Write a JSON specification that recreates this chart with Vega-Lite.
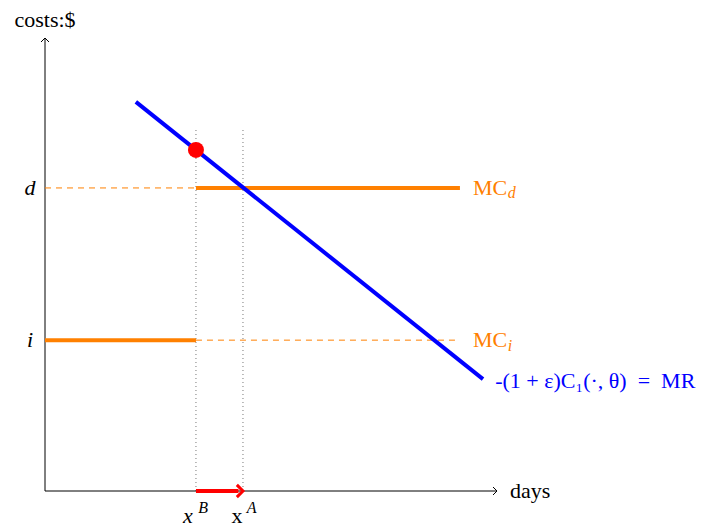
{
  "$schema": "https://vega.github.io/schema/vega-lite/v6.json",
  "width": 452,
  "height": 453,
  "autosize": {"type": "none"},
  "padding": {"left": 45, "top": 38, "right": 212, "bottom": 38},
  "config": {"view": {"stroke": null}},
  "datasets": {
    "axes": [
      {"name": "x", "x": 0, "y": 0, "x2": 10, "y2": 0},
      {"name": "y", "x": 0, "y": 0, "x2": 0, "y2": 10}
    ],
    "heads": [
      {"name": "x", "x": 10, "y": 0, "angle": 0},
      {"name": "y", "x": 0, "y": 10, "angle": -90}
    ],
    "dotted": [
      {"x": 3.34, "y": 0, "y2": 7.97},
      {"x": 4.38, "y": 0, "y2": 7.97}
    ],
    "dashed": [
      {"level": "d", "x": 0, "x2": 3.34, "y": 6.69},
      {"level": "i", "x": 3.34, "x2": 9.18, "y": 3.33}
    ],
    "solid": [
      {"level": "d", "x": 3.34, "x2": 9.18, "y": 6.69},
      {"level": "i", "x": 0, "x2": 3.34, "y": 3.33}
    ],
    "mr": [{"x": 2.01, "y": 8.59, "x2": 9.69, "y2": 2.47}],
    "dot": [{"x": 3.34, "y": 7.53}],
    "shift": [{"x": 3.34, "x2": 4.28, "y": 0}],
    "shifthead": [{"x": 4.38, "y": 0}],
    "titleText": [{"label": "costs:$", "x": 0, "y": 10.4}],
    "daysText": [{"label": "days", "x": 10.29, "y": 0}],
    "italicText": [
      {"label": "d", "x": -0.33, "y": 6.69},
      {"label": "i", "x": -0.33, "y": 3.33}
    ],
    "xlabels": [
      {"label": "x", "x": 3.16, "y": -0.55, "style": "italic"},
      {"label": "x", "x": 4.25, "y": -0.55, "style": "normal"}
    ],
    "xsup": [
      {"label": "B", "x": 3.5, "y": -0.37},
      {"label": "A", "x": 4.57, "y": -0.37}
    ],
    "mcText": [
      {"label": "MC", "x": 9.47, "y": 6.69},
      {"label": "MC", "x": 9.47, "y": 3.33}
    ],
    "mcSub": [
      {"label": "d", "x": 10.24, "y": 6.57},
      {"label": "i", "x": 10.24, "y": 3.21}
    ],
    "mrText": [
      {"label": "-(1 + ε)C₁(·, θ)\u2002=\u2002MR", "x": 9.96, "y": 2.43}
    ]
  },
  "layer": [
    {
      "data": {"name": "dotted"},
      "mark": {"type": "rule", "color": "#777777", "strokeWidth": 1, "strokeDash": [1, 3]},
      "encoding": {
        "x": {"field": "x", "type": "quantitative", "scale": {"domain": [0, 10]}, "axis": null},
        "y": {"field": "y", "type": "quantitative", "scale": {"domain": [0, 10]}, "axis": null},
        "y2": {"field": "y2"}
      }
    },
    {
      "data": {"name": "axes"},
      "mark": {"type": "rule", "color": "#000000", "strokeWidth": 1},
      "encoding": {
        "x": {"field": "x", "type": "quantitative", "scale": {"domain": [0, 10]}, "axis": null},
        "y": {"field": "y", "type": "quantitative", "scale": {"domain": [0, 10]}, "axis": null},
        "x2": {"field": "x2"},
        "y2": {"field": "y2"}
      }
    },
    {
      "data": {"name": "heads"},
      "mark": {"type": "point", "shape": "M-1,-1L0,0L-1,1", "filled": false, "color": "#000000", "strokeWidth": 1, "size": 64, "opacity": 1},
      "encoding": {
        "x": {"field": "x", "type": "quantitative", "scale": {"domain": [0, 10]}, "axis": null},
        "y": {"field": "y", "type": "quantitative", "scale": {"domain": [0, 10]}, "axis": null},
        "angle": {"field": "angle", "type": "quantitative", "scale": null}
      }
    },
    {
      "data": {"name": "dashed"},
      "mark": {"type": "rule", "color": "#ff8000", "strokeWidth": 1, "strokeDash": [6, 5]},
      "encoding": {
        "x": {"field": "x", "type": "quantitative", "scale": {"domain": [0, 10]}, "axis": null},
        "x2": {"field": "x2"},
        "y": {"field": "y", "type": "quantitative", "scale": {"domain": [0, 10]}, "axis": null}
      }
    },
    {
      "data": {"name": "solid"},
      "mark": {"type": "rule", "color": "#ff8000", "strokeWidth": 4},
      "encoding": {
        "x": {"field": "x", "type": "quantitative", "scale": {"domain": [0, 10]}, "axis": null},
        "x2": {"field": "x2"},
        "y": {"field": "y", "type": "quantitative", "scale": {"domain": [0, 10]}, "axis": null}
      }
    },
    {
      "data": {"name": "mr"},
      "mark": {"type": "rule", "color": "#0000ff", "strokeWidth": 4},
      "encoding": {
        "x": {"field": "x", "type": "quantitative", "scale": {"domain": [0, 10]}, "axis": null},
        "y": {"field": "y", "type": "quantitative", "scale": {"domain": [0, 10]}, "axis": null},
        "x2": {"field": "x2"},
        "y2": {"field": "y2"}
      }
    },
    {
      "data": {"name": "dot"},
      "mark": {"type": "circle", "color": "#ff0000", "size": 256, "opacity": 1},
      "encoding": {
        "x": {"field": "x", "type": "quantitative", "scale": {"domain": [0, 10]}, "axis": null},
        "y": {"field": "y", "type": "quantitative", "scale": {"domain": [0, 10]}, "axis": null}
      }
    },
    {
      "data": {"name": "shift"},
      "mark": {"type": "rule", "color": "#ff0000", "strokeWidth": 4},
      "encoding": {
        "x": {"field": "x", "type": "quantitative", "scale": {"domain": [0, 10]}, "axis": null},
        "x2": {"field": "x2"},
        "y": {"field": "y", "type": "quantitative", "scale": {"domain": [0, 10]}, "axis": null}
      }
    },
    {
      "data": {"name": "shifthead"},
      "mark": {"type": "point", "shape": "M-1,-1L0,0L-1,1", "filled": false, "color": "#ff0000", "strokeWidth": 3, "size": 150, "opacity": 1},
      "encoding": {
        "x": {"field": "x", "type": "quantitative", "scale": {"domain": [0, 10]}, "axis": null},
        "y": {"field": "y", "type": "quantitative", "scale": {"domain": [0, 10]}, "axis": null}
      }
    },
    {
      "data": {"name": "titleText"},
      "mark": {"type": "text", "font": "Liberation Serif", "fontSize": 22, "color": "#000000", "align": "center", "baseline": "middle"},
      "encoding": {
        "x": {"field": "x", "type": "quantitative", "scale": {"domain": [0, 10]}, "axis": null},
        "y": {"field": "y", "type": "quantitative", "scale": {"domain": [0, 10]}, "axis": null},
        "text": {"field": "label"}
      }
    },
    {
      "data": {"name": "daysText"},
      "mark": {"type": "text", "font": "Liberation Serif", "fontSize": 22, "color": "#000000", "align": "left", "baseline": "middle"},
      "encoding": {
        "x": {"field": "x", "type": "quantitative", "scale": {"domain": [0, 10]}, "axis": null},
        "y": {"field": "y", "type": "quantitative", "scale": {"domain": [0, 10]}, "axis": null},
        "text": {"field": "label"}
      }
    },
    {
      "data": {"name": "italicText"},
      "mark": {"type": "text", "font": "Liberation Serif", "fontSize": 22, "fontStyle": "italic", "color": "#000000", "align": "center", "baseline": "middle"},
      "encoding": {
        "x": {"field": "x", "type": "quantitative", "scale": {"domain": [0, 10]}, "axis": null},
        "y": {"field": "y", "type": "quantitative", "scale": {"domain": [0, 10]}, "axis": null},
        "text": {"field": "label"}
      }
    },
    {
      "data": {"name": "xlabels"},
      "transform": [{"filter": "datum.style == 'italic'"}],
      "mark": {"type": "text", "font": "Liberation Serif", "fontSize": 22, "fontStyle": "italic", "color": "#000000", "align": "center", "baseline": "middle"},
      "encoding": {
        "x": {"field": "x", "type": "quantitative", "scale": {"domain": [0, 10]}, "axis": null},
        "y": {"field": "y", "type": "quantitative", "scale": {"domain": [0, 10]}, "axis": null},
        "text": {"field": "label"}
      }
    },
    {
      "data": {"name": "xlabels"},
      "transform": [{"filter": "datum.style == 'normal'"}],
      "mark": {"type": "text", "font": "Liberation Serif", "fontSize": 22, "color": "#000000", "align": "center", "baseline": "middle"},
      "encoding": {
        "x": {"field": "x", "type": "quantitative", "scale": {"domain": [0, 10]}, "axis": null},
        "y": {"field": "y", "type": "quantitative", "scale": {"domain": [0, 10]}, "axis": null},
        "text": {"field": "label"}
      }
    },
    {
      "data": {"name": "xsup"},
      "mark": {"type": "text", "font": "Liberation Serif", "fontSize": 16, "fontStyle": "italic", "color": "#000000", "align": "center", "baseline": "middle"},
      "encoding": {
        "x": {"field": "x", "type": "quantitative", "scale": {"domain": [0, 10]}, "axis": null},
        "y": {"field": "y", "type": "quantitative", "scale": {"domain": [0, 10]}, "axis": null},
        "text": {"field": "label"}
      }
    },
    {
      "data": {"name": "mcText"},
      "mark": {"type": "text", "font": "Liberation Serif", "fontSize": 22, "color": "#ff8000", "align": "left", "baseline": "middle"},
      "encoding": {
        "x": {"field": "x", "type": "quantitative", "scale": {"domain": [0, 10]}, "axis": null},
        "y": {"field": "y", "type": "quantitative", "scale": {"domain": [0, 10]}, "axis": null},
        "text": {"field": "label"}
      }
    },
    {
      "data": {"name": "mcSub"},
      "mark": {"type": "text", "font": "Liberation Serif", "fontSize": 16, "fontStyle": "italic", "color": "#ff8000", "align": "left", "baseline": "middle"},
      "encoding": {
        "x": {"field": "x", "type": "quantitative", "scale": {"domain": [0, 10]}, "axis": null},
        "y": {"field": "y", "type": "quantitative", "scale": {"domain": [0, 10]}, "axis": null},
        "text": {"field": "label"}
      }
    },
    {
      "data": {"name": "mrText"},
      "mark": {"type": "text", "font": "Liberation Serif", "fontSize": 22, "color": "#0000ff", "align": "left", "baseline": "middle"},
      "encoding": {
        "x": {"field": "x", "type": "quantitative", "scale": {"domain": [0, 10]}, "axis": null},
        "y": {"field": "y", "type": "quantitative", "scale": {"domain": [0, 10]}, "axis": null},
        "text": {"field": "label"}
      }
    }
  ]
}
